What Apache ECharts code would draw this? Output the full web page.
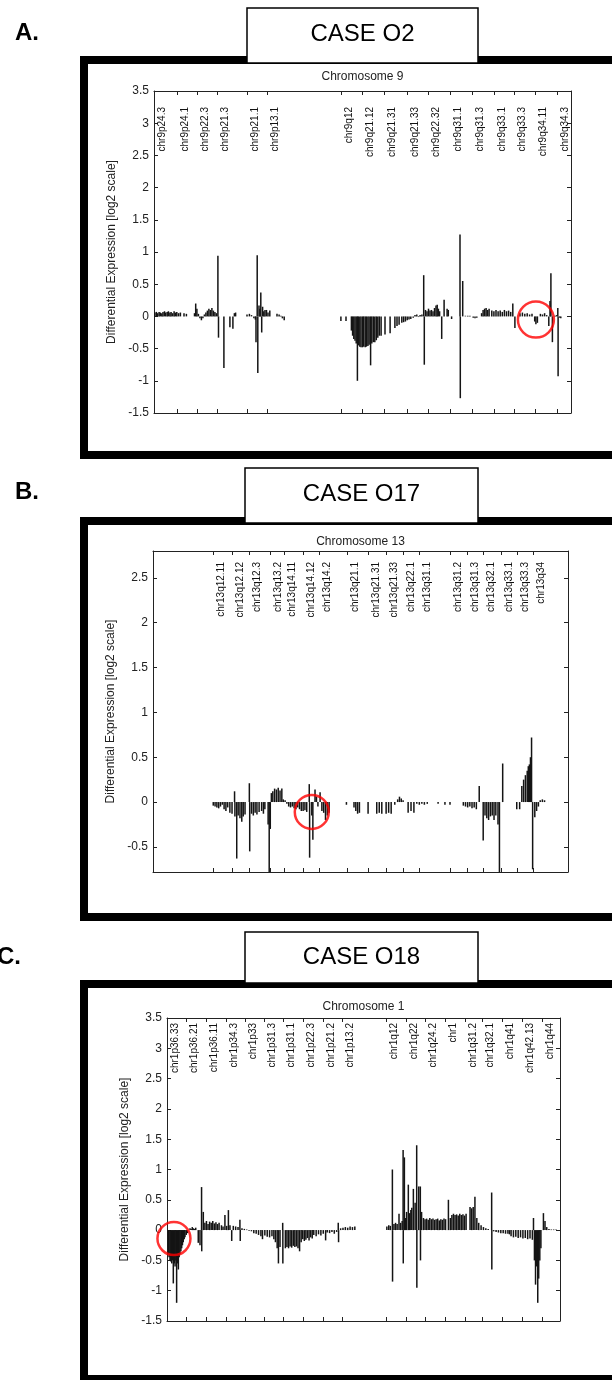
<!DOCTYPE html>
<html>
<head>
<meta charset="utf-8">
<script src="https://cdn.jsdelivr.net/npm/echarts@6/dist/echarts.min.js"></script>
<style>
  html, body { margin: 0; padding: 0; background: #fff; }
  #chart { width: 612px; height: 1380px; }
</style>
</head>
<body>
<div id="chart"></div>
<script>
// x positions are Mb along the chromosome, y is log2 differential expression

// case O2 - chromosome 9
var chr9Bands = ['chr9p24.3', 'chr9p24.1', 'chr9p22.3', 'chr9p21.3', 'chr9p21.1', 'chr9p13.1',
  'chr9q12', 'chr9q21.12', 'chr9q21.31', 'chr9q21.33', 'chr9q22.32', 'chr9q31.1', 'chr9q31.3',
  'chr9q33.1', 'chr9q33.3', 'chr9q34.11', 'chr9q34.3'];
var chr9BandPos = [0, 7.7, 14.3, 21, 31, 37.7, 62.3, 69.3, 76.7, 84.3, 91.3, 98.7, 106, 113.3, 120, 127, 134.3];
var chr9Bars = [
  [0.3, 0.06], [0.8, 0.07], [1.2, 0.05], [1.7, 0.07], [2.1, 0.06], [2.6, 0.05], [3.0, 0.07], [3.5, 0.08],
  [3.9, 0.06], [4.4, 0.07], [4.8, 0.08], [5.3, 0.06], [5.7, 0.07], [6.2, 0.05], [6.7, 0.08], [7.1, 0.06],
  [7.6, 0.07], [8.2, 0.05], [8.8, 0.06], [10.0, 0.05], [10.8, 0.04],
  [13.5, 0.05], [13.9, 0.2], [14.3, 0.12], [14.8, 0.04], [15.3, -0.03], [15.8, -0.06], [16.3, -0.03],
  [16.8, 0.03], [17.3, 0.06], [17.8, 0.09], [18.3, 0.12], [18.8, 0.1], [19.3, 0.13], [19.8, 0.09],
  [20.3, 0.07], [20.8, 0.05], [21.3, 0.94], [21.5, -0.33], [23.3, -0.8], [25.3, -0.17], [26.3, -0.19],
  [26.8, 0.05], [27.2, 0.06], [31.0, 0.03], [31.8, 0.04], [32.5, 0.02], [33.3, -0.03], [33.8, -0.05],
  [34.0, -0.4], [34.4, 0.95], [34.6, -0.88], [35.0, 0.17], [35.3, 0.12], [35.6, 0.37], [35.9, -0.25],
  [36.2, 0.15], [36.6, 0.08], [37.0, 0.1], [37.5, 0.1], [38.0, 0.06], [38.6, 0.09],
  [41.0, 0.04], [41.7, 0.03], [42.3, 0.01], [42.8, -0.03], [43.4, -0.06],
  [62.3, -0.07], [64.0, -0.07],
  [65.8, -0.22], [66.2, -0.3], [66.6, -0.35], [67.0, -0.38], [67.4, -0.42], [67.8, -1.0], [68.1, -0.45],
  [68.6, -0.47], [69.0, -0.48], [69.5, -0.48], [69.9, -0.47], [70.4, -0.48], [70.8, -0.47], [71.3, -0.46],
  [71.7, -0.44], [72.2, -0.76], [72.6, -0.42], [73.1, -0.4], [73.6, -0.4], [74.1, -0.37], [74.6, -0.33],
  [75.1, -0.3], [75.7, -0.3], [77.0, -0.28], [78.7, -0.26], [80.3, -0.18], [81.0, -0.15], [81.7, -0.13],
  [82.6, -0.1], [83.2, -0.09], [83.8, -0.08], [84.4, -0.06], [85.0, -0.05], [85.6, -0.04],
  [86.4, -0.02], [87.0, 0.02], [87.6, 0.03], [88.2, -0.01], [88.7, 0.02], [89.3, 0.03],
  [89.9, 0.64], [90.1, -0.75], [90.5, 0.1], [91.0, 0.08], [91.5, 0.12], [92.0, 0.09], [92.5, 0.1],
  [93.0, 0.08], [93.5, 0.13], [94.0, 0.17], [94.4, 0.18], [94.8, 0.12], [95.2, 0.08], [95.9, -0.35],
  [96.7, 0.26], [97.7, 0.12], [98.1, 0.1], [99.2, -0.04], [102.0, 1.27], [102.1, -1.27], [102.9, 0.55],
  [103.8, 0.01], [104.6, 0.01], [105.3, 0.01], [106.4, -0.02], [107.0, -0.03], [107.6, -0.02],
  [109.2, 0.05], [109.7, 0.1], [110.2, 0.12], [110.7, 0.13], [111.2, 0.1], [111.7, 0.12],
  [112.6, 0.09], [113.3, 0.08], [114.0, 0.1], [114.7, 0.08], [115.4, 0.09], [116.1, 0.07], [116.8, 0.1],
  [117.5, 0.08], [118.2, 0.09], [118.9, 0.07], [119.6, 0.2], [120.3, -0.18],
  [122.0, 0.05], [122.8, 0.06], [123.6, 0.04], [124.4, 0.05], [125.2, 0.03], [126.0, 0.04],
  [126.9, -0.08], [127.3, -0.12], [127.8, -0.1], [128.8, 0.04], [129.5, 0.03], [130.2, 0.05], [130.9, 0.02],
  [131.6, -0.15], [132.0, 0.24], [132.3, 0.67], [132.8, -0.4], [133.7, 0.01], [134.2, 0.02],
  [134.6, 0.13], [134.7, -0.93], [135.2, -0.02], [135.6, -0.03]
];
var chr9Mark = [[127.3, -0.05]];

// case O17 - chromosome 13
var chr13Bands = ['chr13q12.11', 'chr13q12.12', 'chr13q12.3', 'chr13q13.2', 'chr13q14.11', 'chr13q14.12',
  'chr13q14.2', 'chr13q21.1', 'chr13q21.31', 'chr13q21.33', 'chr13q22.1', 'chr13q31.1', 'chr13q31.2',
  'chr13q31.3', 'chr13q32.1', 'chr13q33.1', 'chr13q33.3', 'chr13q34'];
var chr13BandPos = [16.6, 21.9, 26.6, 32.4, 36.3, 41.6, 46.0, 53.7, 59.6, 64.5, 69.3, 73.7, 82.3, 87.0, 91.4, 96.4, 100.8, 105.5];
var chr13Bars = [
  [16.7, -0.04], [17.2, -0.05], [17.7, -0.06], [18.2, -0.07], [18.7, -0.05], [19.2, -0.03], [19.7, -0.08],
  [20.2, -0.1], [20.7, -0.06], [21.3, -0.12], [21.9, -0.13], [22.6, 0.12], [22.7, -0.16], [23.2, -0.63],
  [23.6, -0.15], [24.1, -0.18], [24.6, -0.22], [25.0, -0.16], [25.5, -0.14], [26.7, 0.21], [26.8, -0.55],
  [27.3, -0.13], [27.8, -0.15], [28.3, -0.12], [28.8, -0.14], [29.4, -0.11], [30.1, -0.1], [30.6, -0.13],
  [31.0, -0.08], [31.9, -0.25], [32.2, -0.78], [32.5, -0.3], [32.8, 0.1], [33.2, 0.12], [33.7, 0.15],
  [34.2, 0.14], [34.7, 0.16], [35.2, 0.13], [35.7, 0.15], [36.1, 0.03], [36.6, 0.02], [37.1, -0.02],
  [37.6, -0.05], [38.1, -0.06], [38.6, -0.05], [39.1, -0.07], [39.6, -0.08], [40.1, -0.06], [40.6, -0.08],
  [41.1, -0.1], [41.6, -0.1], [42.1, -0.09], [42.6, -0.11], [43.3, 0.2], [43.4, -0.62], [44.0, -0.15],
  [44.3, -0.42], [44.9, 0.14], [45.3, 0.06], [45.7, -0.05], [46.3, 0.11], [46.8, -0.1], [47.3, -0.12],
  [47.8, -0.2], [48.3, -0.15], [48.8, -0.12],
  [53.6, -0.03], [55.7, -0.06], [56.2, -0.1], [56.7, -0.13], [57.2, -0.12], [59.6, -0.13],
  [62.0, -0.13], [62.7, -0.12], [63.4, -0.13], [64.6, -0.13], [65.3, -0.12], [66.0, -0.13],
  [67.0, -0.03], [67.8, 0.03], [68.3, 0.06], [68.8, 0.04], [69.3, 0.02], [70.7, -0.12], [71.5, -0.1],
  [72.3, -0.12], [73.1, -0.02], [73.8, -0.03], [74.5, -0.02], [75.2, -0.03], [76.0, -0.02],
  [79.0, -0.02], [80.9, -0.03], [82.3, -0.03],
  [86.0, -0.04], [86.6, -0.05], [87.2, -0.06], [87.8, -0.05], [88.4, -0.07], [89.0, -0.06], [89.6, -0.08],
  [90.4, 0.18], [91.5, -0.43], [92.0, -0.15], [92.5, -0.18], [93.0, -0.2], [93.5, -0.16], [94.0, -0.15],
  [94.5, -0.2], [95.0, -0.15], [95.6, -0.25], [96.0, -0.78], [96.9, 0.43], [100.8, -0.08], [101.6, -0.08],
  [102.2, 0.18], [102.7, 0.25], [103.2, 0.3], [103.7, 0.35], [104.0, 0.4], [104.3, 0.42], [104.6, 0.5],
  [104.9, 0.72], [105.2, -0.75], [105.8, -0.17], [106.3, -0.1], [106.8, -0.05], [107.3, 0.02],
  [107.9, 0.03], [108.5, 0.02]
];
var chr13Mark = [[44.0, -0.11]];

// case O18 - chromosome 1
var chr1Bands = ['chr1p36.33', 'chr1p36.21', 'chr1p36.11', 'chr1p34.3', 'chr1p33', 'chr1p31.3', 'chr1p31.1',
  'chr1p22.3', 'chr1p21.2', 'chr1p13.2', 'chr1q12', 'chr1q22', 'chr1q24.2', 'chr1', 'chr1q31.2',
  'chr1q32.1', 'chr1q41', 'chr1q42.13', 'chr1q44'];
var chr1BandPos = [0, 12.0, 24.7, 37.4, 49.4, 61.5, 73.5, 86.2, 98.9, 110.9, 138.8, 151.5, 163.5, 176.2, 188.8, 199.6, 212.3, 225.0, 237.6];
var chr1Bars = [
  [0.8, -0.4], [1.3, -0.45], [1.9, -0.5], [2.4, -0.52], [3.0, -0.55], [3.5, -0.5], [4.0, -0.88], [4.6, -0.55],
  [5.1, -0.6], [5.6, -0.5], [6.1, -1.2], [6.7, -0.55], [7.2, -0.65], [7.7, -0.45], [8.2, -0.4], [8.8, -0.35],
  [9.3, -0.3], [9.8, -0.25], [10.3, -0.2], [10.9, -0.15], [11.4, -0.12], [12.2, -0.08], [12.9, -0.05],
  [14.6, 0.03], [15.3, 0.02], [16.0, 0.05], [16.7, 0.03], [17.4, 0.02], [18.2, 0.04],
  [19.8, -0.21], [20.9, -0.25], [21.9, 0.71], [22.0, -0.35],
  [23.0, 0.3], [24.0, 0.12], [25.0, 0.15], [26.0, 0.1], [27.0, 0.14], [28.0, 0.12], [29.0, 0.15],
  [30.0, 0.11], [31.0, 0.13], [32.0, 0.1], [33.0, 0.12], [34.5, 0.08], [35.5, 0.06], [36.7, 0.25],
  [37.8, 0.07], [38.9, 0.33], [39.9, 0.08], [41.0, -0.18], [42.0, 0.07], [43.5, 0.06], [45.0, 0.05],
  [46.2, 0.17], [46.4, -0.18], [47.5, 0.03], [49.0, 0.02], [50.5, 0.01], [52.0, -0.01], [53.5, -0.02],
  [55.0, -0.05], [56.5, -0.06], [58.0, -0.08], [59.5, -0.1], [60.5, -0.15], [62.0, -0.09], [63.5, -0.11],
  [65.0, -0.12], [66.5, -0.1], [67.7, -0.15], [68.7, -0.2], [69.8, -0.3], [70.6, -0.55], [71.6, -0.28],
  [73.3, 0.12], [73.4, -0.55], [75.0, -0.3], [76.0, -0.28], [77.0, -0.3], [78.0, -0.27], [79.0, -0.29],
  [80.0, -0.26], [81.0, -0.28], [82.0, -0.27], [83.0, -0.3], [84.0, -0.35], [85.0, -0.2], [86.0, -0.15],
  [87.0, -0.18], [88.0, -0.16], [89.0, -0.13], [90.0, -0.17], [91.0, -0.12], [92.0, -0.14],
  [93.0, -0.08], [94.5, -0.1], [96.0, -0.07], [97.5, -0.09], [99.0, -0.06], [100.5, -0.17],
  [101.5, -0.04], [103.0, -0.05], [104.5, -0.03], [106.0, -0.06], [107.5, -0.03], [108.5, 0.12], [108.7, -0.2],
  [110.0, 0.03], [111.5, 0.04], [113.0, 0.05], [114.5, 0.04], [116.0, 0.06], [117.5, 0.05], [119.0, 0.06],
  [139.3, 0.06], [140.5, 0.08], [141.5, 0.07], [142.8, 1.0], [142.9, -0.85], [143.8, 0.1], [144.8, 0.12],
  [145.8, 0.1], [147.0, 0.27], [148.0, 0.12], [149.0, 0.15], [149.6, 1.32], [149.7, -0.55], [150.4, 1.2],
  [151.0, 0.2], [151.8, 0.3], [152.9, 0.75], [153.8, 0.28], [154.5, 0.33], [155.1, 0.37], [156.1, 0.68],
  [157.2, 0.45], [158.2, 1.4], [158.3, -0.95], [159.5, 0.72], [160.5, 0.72], [160.6, -0.5], [161.3, 0.3],
  [162.5, 0.2], [163.5, 0.18], [164.5, 0.19], [165.5, 0.17], [166.5, 0.2], [167.5, 0.18], [168.5, 0.19],
  [169.5, 0.17], [170.5, 0.18], [171.5, 0.19], [172.5, 0.16], [173.5, 0.18], [174.5, 0.17], [175.5, 0.19],
  [176.5, 0.18], [178.3, 0.5], [179.5, 0.2], [180.5, 0.25], [181.5, 0.27], [182.5, 0.25], [183.5, 0.26],
  [184.5, 0.24], [185.5, 0.27], [186.5, 0.25], [187.5, 0.26], [188.5, 0.24], [189.5, 0.27],
  [192.0, 0.38], [193.0, 0.36], [194.0, 0.38], [195.1, 0.55], [196.3, 0.2], [197.5, 0.12], [199.0, 0.08],
  [200.5, 0.05], [202.0, 0.03], [203.5, 0.02], [205.7, 0.62], [205.8, -0.65],
  [207.0, -0.02], [208.5, -0.03], [210.0, -0.04], [211.5, -0.05], [213.0, -0.05], [214.5, -0.06],
  [216.0, -0.06], [217.0, -0.07], [218.0, -0.1], [219.5, -0.12], [221.0, -0.11], [222.5, -0.13],
  [224.0, -0.12], [225.5, -0.14], [227.0, -0.13], [228.5, -0.15], [230.0, -0.14], [231.5, -0.16],
  [232.2, 0.2], [232.8, -0.5], [233.5, -0.9], [234.2, -0.6], [234.9, -1.2], [235.5, -0.8], [236.2, -0.5],
  [236.9, -0.3], [238.5, 0.28], [239.5, 0.15], [240.6, 0.05], [242.0, 0.02], [243.5, 0.01], [245.0, 0.01],
  [246.5, 0.01]
];
var chr1Mark = [[4.4, -0.14]];

var yTicksFull = [-1.5, -1, -0.5, 0, 0.5, 1, 1.5, 2, 2.5, 3, 3.5];
var yTicksO17 = [-0.5, 0, 0.5, 1, 1.5, 2, 2.5];

var FONT = '"Liberation Sans", Arial, Helvetica, sans-serif';
var AXIS_COLOR = '#222';

var panels = [
  {
    letter: 'A.', caseName: 'CASE O2', title: 'Chromosome 9',
    bands: chr9Bands, bandPos: chr9BandPos, bars: chr9Bars, mark: chr9Mark, yTicks: yTicksFull,
    xMax: 139, yMin: -1.5, yMax: 3.5,
    grid: [154, 91, 417, 322], labelTop: 16, nameGap: 32, circle: 36,
    frame: [84, 60, 395], box: [247, 8, 231, 55], caseY: 34, letterPos: [15, 33], titleY: 77
  },
  {
    letter: 'B.', caseName: 'CASE O17', title: 'Chromosome 13',
    bands: chr13Bands, bandPos: chr13BandPos, bars: chr13Bars, mark: chr13Mark, yTicks: yTicksO17,
    xMax: 115, yMin: -0.78, yMax: 2.8,
    grid: [153, 551, 415, 321], labelTop: 11, nameGap: 33, circle: 34,
    frame: [84, 521, 396], box: [245, 468, 233, 55], caseY: 494, letterPos: [15, 492], titleY: 542
  },
  {
    letter: 'C.', caseName: 'CASE O18', title: 'Chromosome 1',
    bands: chr1Bands, bandPos: chr1BandPos, bars: chr1Bars, mark: chr1Mark, yTicks: yTicksFull,
    xMax: 249, yMin: -1.5, yMax: 3.5,
    grid: [167, 1018, 393, 303], labelTop: 5, nameGap: 29, circle: 33,
    frame: [84, 984, 395], box: [245, 932, 233, 51], caseY: 957, letterPos: [-3, 957], titleY: 1007
  }
];

function xAxisFor(p, i, pos) {
  return {
    type: 'value', gridIndex: i, position: pos, min: 0, max: p.xMax,
    splitLine: { show: false },
    axisLine: { show: true, onZero: false, lineStyle: { color: AXIS_COLOR, width: 1 } },
    axisTick: { show: true, inside: true, length: 4, customValues: p.bandPos, lineStyle: { color: AXIS_COLOR } },
    axisLabel: { show: false, customValues: p.bandPos }
  };
}

function yAxisFor(p, i, pos) {
  var ax = {
    type: 'value', gridIndex: i, position: pos, min: p.yMin, max: p.yMax,
    splitLine: { show: false },
    axisLine: { show: true, onZero: false, lineStyle: { color: AXIS_COLOR, width: 1 } },
    axisTick: { show: true, inside: true, length: 4, customValues: p.yTicks, lineStyle: { color: AXIS_COLOR } },
    axisLabel: { show: pos === 'left', customValues: p.yTicks, fontSize: 12, color: '#222', margin: 5, fontFamily: FONT }
  };
  if (pos === 'left') {
    ax.name = 'Differential Expression [log2 scale]';
    ax.nameLocation = 'middle';
    ax.nameRotate = 90;
    ax.nameGap = p.nameGap;
    ax.nameTextStyle = { fontSize: 12, color: '#222', fontFamily: FONT };
  }
  return ax;
}

function bandLabels(p) {
  return function (params, api) {
    var pt = api.coord([api.value(0), p.yMax]);
    return {
      type: 'text',
      x: pt[0] + 8,
      y: pt[1] + p.labelTop,
      rotation: Math.PI / 2,
      style: {
        text: p.bands[params.dataIndex],
        fill: '#111', fontSize: 10, fontFamily: FONT,
        align: 'right', verticalAlign: 'middle'
      }
    };
  };
}

var option = {
  animation: false,
  backgroundColor: '#fff',
  grid: [], xAxis: [], yAxis: [], series: [], graphic: []
};

panels.forEach(function (p, i) {
  option.grid.push({ left: p.grid[0], top: p.grid[1], width: p.grid[2], height: p.grid[3] });
  option.xAxis.push(xAxisFor(p, i, 'bottom'), xAxisFor(p, i, 'top'));
  option.yAxis.push(yAxisFor(p, i, 'left'), yAxisFor(p, i, 'right'));

  option.series.push({
    type: 'bar', xAxisIndex: 2 * i, yAxisIndex: 2 * i,
    data: p.bars, barWidth: 1.5, silent: true,
    itemStyle: { color: '#141414' }
  });
  option.series.push({
    type: 'custom', xAxisIndex: 2 * i, yAxisIndex: 2 * i, silent: true,
    data: p.bandPos.map(function (v) { return [v, p.yMax]; }),
    renderItem: bandLabels(p)
  });
  option.series.push({
    type: 'scatter', xAxisIndex: 2 * i, yAxisIndex: 2 * i, silent: true, z: 5,
    data: p.mark, symbol: 'circle', symbolSize: p.circle,
    itemStyle: { color: 'rgba(0,0,0,0)', borderColor: '#f00', borderWidth: 2.5 }
  });

  // thick black frame, case box on top of it, panel letter and plot title
  option.graphic.push(
    { type: 'rect', z: 1, shape: { x: p.frame[0], y: p.frame[1], width: 800, height: p.frame[2] },
      style: { fill: 'none', stroke: '#000', lineWidth: 8 } },
    { type: 'rect', z: 5, shape: { x: p.box[0], y: p.box[1], width: p.box[2], height: p.box[3] },
      style: { fill: '#fff', stroke: '#000', lineWidth: 1.5 } },
    { type: 'text', z: 6, x: p.box[0] + p.box[2] / 2, y: p.caseY,
      style: { text: p.caseName, fontSize: 24, fontFamily: FONT, fill: '#000', align: 'center', verticalAlign: 'middle' } },
    { type: 'text', z: 6, x: p.letterPos[0], y: p.letterPos[1],
      style: { text: p.letter, fontSize: 24, fontWeight: 'bold', fontFamily: FONT, fill: '#000', align: 'left', verticalAlign: 'middle' } },
    { type: 'text', z: 6, x: p.grid[0] + p.grid[2] / 2, y: p.titleY,
      style: { text: p.title, fontSize: 12, fontFamily: FONT, fill: '#222', align: 'center', verticalAlign: 'middle' } }
  );
});

var chart = echarts.init(document.getElementById('chart'), null, { renderer: 'canvas' });
chart.setOption(option);
</script>
</body>
</html>
